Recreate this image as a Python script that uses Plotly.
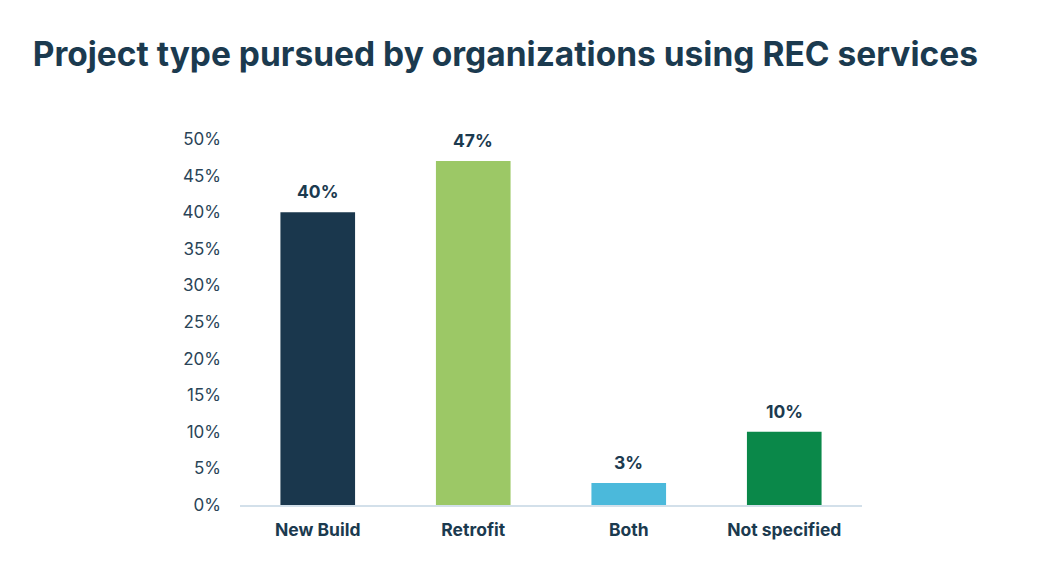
import plotly.graph_objects as go

categories = ["New Build", "Retrofit", "Both", "Not specified"]
values = [40, 47, 3, 10]
labels = ["40%", "47%", "3%", "10%"]
colors = ["#1a374d", "#9cc866", "#4bb9db", "#0a8849"]
tick_vals = [0, 5, 10, 15, 20, 25, 30, 35, 40, 45, 50]
tick_text = [f"{v}%" for v in tick_vals]

dark = "#1b3a4f"

fig = go.Figure(go.Bar(
    x=categories, y=values, marker=dict(color=colors, line=dict(width=0)),
    width=0.48,
))

for c, v, t in zip(categories, values, labels):
    fig.add_annotation(x=c, y=v, text=f"<b>{t}</b>", showarrow=False,
                       yanchor="bottom", yshift=8,
                       font=dict(family="Inter", size=17.5, color=dark))

fig.update_layout(
    width=1054, height=576,
    margin=dict(l=240, r=192, t=139, b=71),
    paper_bgcolor="white", plot_bgcolor="white",
    title=dict(text="<b>Project type pursued by organizations using REC services</b>",
               x=0.031, xanchor="left", y=0.905, yanchor="middle",
               font=dict(family="Inter", size=33.5, color=dark)),
    showlegend=False,
    xaxis=dict(showline=True, linecolor="#d3e0ea", linewidth=1.5, ticks="",
               tickfont=dict(family="Inter", size=17.5, color=dark, weight="bold"),
               ticklabelstandoff=8),
    yaxis=dict(range=[0, 50], tickvals=tick_vals, ticktext=tick_text, showgrid=False,
               zeroline=False, showline=False, ticks="",
               tickfont=dict(family="Inter", size=17, color="#2a4457"),
               ticklabelstandoff=18),
)

fig.write_html("out.html")
